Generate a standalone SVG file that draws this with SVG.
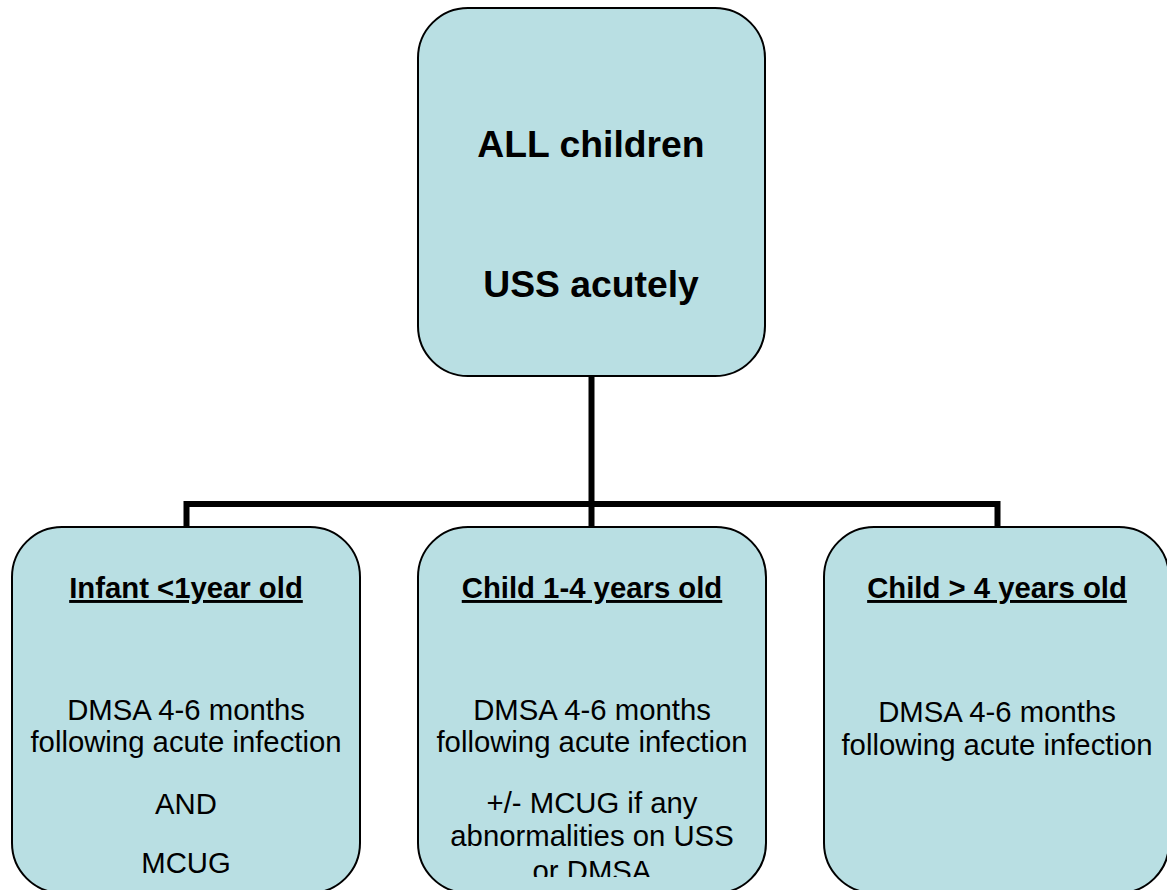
<svg xmlns="http://www.w3.org/2000/svg" width="1167" height="890" viewBox="0 0 1167 890">
<style>
.box{fill:#B9DFE3;stroke:#000;stroke-width:2}
.conn{fill:none;stroke:#000;stroke-width:6}
text{font-family:"Liberation Sans",Arial,sans-serif;fill:#000;text-anchor:middle}
.title{font-size:37.3px;font-weight:bold}
.head{font-size:29.3px;font-weight:bold;text-decoration:underline}
.body{font-size:29.3px}
</style>
<defs>
<clipPath id="clipText"><rect x="0" y="520" width="1167" height="357"/></clipPath>
</defs>
<rect width="1167" height="890" fill="#fff"/>
<g id="connectors">
<path class="conn" d="M591.5 376 V504"/>
<path class="conn" d="M186.5 527 V504 H997.5 V527"/>
<path class="conn" d="M591.5 504 V527"/>
</g>
<g id="node-all">
<rect class="box" x="418" y="8" width="347" height="368" rx="50" ry="50"/>
<text class="title" x="591" y="157">ALL children</text>
<text class="title" x="591" y="297">USS acutely</text>
</g>
<g id="node-infant">
<rect class="box" x="12" y="527" width="348" height="366" rx="50" ry="50"/>
<g clip-path="url(#clipText)">
<text class="head" x="186" y="598">Infant &lt;1year old</text>
<text class="body" x="186" y="720">DMSA 4-6 months</text>
<text class="body" x="186" y="752">following acute infection</text>
<text class="body" x="186" y="814">AND</text>
<text class="body" x="186" y="873">MCUG</text>
</g>
</g>
<g id="node-child14">
<rect class="box" x="418" y="527" width="348" height="366" rx="50" ry="50"/>
<g clip-path="url(#clipText)">
<text class="head" x="592" y="598">Child 1-4 years old</text>
<text class="body" x="592" y="720">DMSA 4-6 months</text>
<text class="body" x="592" y="752">following acute infection</text>
<text class="body" x="592" y="813">+/- MCUG if any</text>
<text class="body" x="592" y="846">abnormalities on USS</text>
<text class="body" x="592" y="881">or DMSA</text>
</g>
</g>
<g id="node-child4">
<rect class="box" x="824" y="527" width="345" height="366" rx="50" ry="50"/>
<g clip-path="url(#clipText)">
<text class="head" x="997" y="598">Child &gt; 4 years old</text>
<text class="body" x="997" y="722">DMSA 4-6 months</text>
<text class="body" x="997" y="755">following acute infection</text>
</g>
</g>
</svg>
